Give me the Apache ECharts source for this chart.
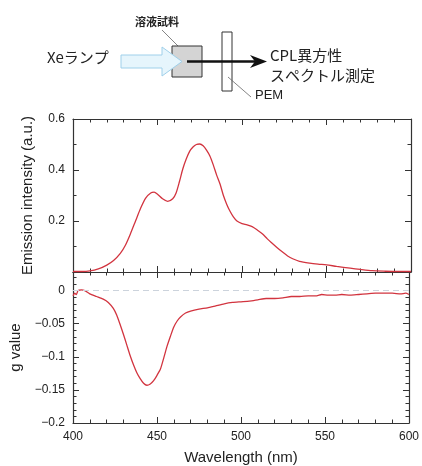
<!DOCTYPE html>
<html>
<head>
<meta charset="utf-8">
<script src="https://cdn.jsdelivr.net/npm/echarts@6/dist/echarts.min.js"></script>
<style>
  html, body { margin: 0; padding: 0; background: #fff; }
  #chart { width: 422px; height: 466px; }
</style>
</head>
<body>
<div id="chart"></div>
<script>
// emission spectrum
var emWave = [400, 405, 410, 415, 420, 424, 428, 431, 434, 437, 440, 443, 446, 448, 450, 453, 456, 459, 461, 463,
    465, 467, 469, 471, 473, 475, 477, 479, 481, 483, 485, 487, 489, 491, 493, 495, 497, 500, 503, 506,
    509, 512, 515, 518, 521, 524, 527, 530, 534, 540, 545, 550, 556, 564, 570, 577, 585, 592, 600];
var emValue = [0.002, 0.002, 0.004, 0.012, 0.027, 0.045, 0.073, 0.105, 0.15, 0.2, 0.25, 0.29, 0.31, 0.313, 0.305, 0.287, 0.277, 0.287, 0.31, 0.355,
    0.405, 0.443, 0.473, 0.49, 0.5, 0.502, 0.495, 0.478, 0.455, 0.42, 0.38, 0.345, 0.3, 0.265, 0.237, 0.215, 0.2, 0.19, 0.185, 0.178,
    0.165, 0.15, 0.13, 0.112, 0.094, 0.078, 0.063, 0.052, 0.042, 0.035, 0.031, 0.028, 0.022, 0.015, 0.01, 0.005, 0.003, 0.002, 0.002];

// g value (dissymmetry factor)
var gWave = [400, 401, 402, 403, 405, 407, 410, 414, 418, 421, 424, 426, 428, 430, 432, 434, 436, 438, 440, 442,
    444, 446, 448, 450, 452, 454, 456, 458, 460, 462, 464, 467, 470, 475, 480, 485, 490, 495, 500, 505,
    510, 515, 520, 525, 530, 535, 540, 545, 548, 552, 556, 560, 565, 570, 575, 580, 585, 590, 595, 598, 600];
var gValue = [-0.008, -0.004, -0.006, 0.0, 0.001, 0.0, -0.005, -0.009, -0.013, -0.018, -0.027, -0.037, -0.051, -0.066, -0.082, -0.098, -0.112, -0.124, -0.133, -0.14,
    -0.143, -0.141, -0.136, -0.128, -0.119, -0.102, -0.084, -0.069, -0.055, -0.046, -0.04, -0.034, -0.031, -0.028, -0.026, -0.023, -0.02, -0.018, -0.017, -0.016,
    -0.014, -0.012, -0.012, -0.011, -0.009, -0.009, -0.008, -0.008, -0.006, -0.007, -0.007, -0.006, -0.007, -0.006, -0.005, -0.004, -0.004, -0.004, -0.005, -0.004, -0.006];

var emTicks = [0, 0.2, 0.4, 0.6];
var gTicks = [-0.2, -0.15, -0.1, -0.05, 0];

var font = '"Liberation Sans", Arial, sans-serif';
var jpFont = '"Noto Sans CJK JP", sans-serif';
var lineColor = '#d2343f';
var axisColor = '#333';

function pairs(xs, ys) {
    return xs.map(function (x, i) { return [x, ys[i]]; });
}

function xAx(grid, pos, showLabel) {
    return {
        type: 'value', gridIndex: grid, position: pos, min: 400, max: 600, interval: 50,
        axisLine: { show: true, onZero: false, lineStyle: { color: axisColor, width: 1.2 } },
        axisTick: { show: true, inside: true, length: 6, lineStyle: { color: axisColor } },
        minorTick: { show: true, splitNumber: 5, length: 3.5, lineStyle: { color: axisColor } },
        axisLabel: { show: showLabel, color: '#222', fontSize: 12, fontFamily: font, margin: 8 },
        splitLine: { show: false }
    };
}

function yAx(grid, pos, min, max, interval, minorSplit, fmt) {
    return {
        type: 'value', gridIndex: grid, position: pos, min: min, max: max, interval: interval,
        axisLine: { show: true, onZero: false, lineStyle: { color: axisColor, width: 1.2 } },
        axisTick: { show: true, inside: true, length: 6, lineStyle: { color: axisColor } },
        minorTick: { show: true, splitNumber: minorSplit, length: 3.5, lineStyle: { color: axisColor } },
        axisLabel: { show: !!fmt, color: '#222', fontSize: 12, fontFamily: font, margin: 8, formatter: fmt },
        splitLine: { show: false }
    };
}

var myChart = echarts.init(document.getElementById('chart'));

var xBottom = xAx(1, 'bottom', true);
xBottom.name = 'Wavelength (nm)';
xBottom.nameLocation = 'middle';
xBottom.nameGap = 27;
xBottom.nameTextStyle = { color: '#222', fontSize: 15, fontFamily: font };

var yEm = yAx(0, 'left', 0, 0.6, 0.2, 2, function (v) {
    return (v > 0.001 && emTicks.some(function (t) { return Math.abs(t - v) < 1e-6; })) ? String(+v.toFixed(1)) : '';
});
yEm.name = 'Emission intensity (a.u.)';
yEm.nameLocation = 'middle';
yEm.nameGap = 38;
yEm.nameTextStyle = { color: '#222', fontSize: 15, fontFamily: font };

var yG = yAx(1, 'left', -0.2, 0.028, 0.05, 5, function (v) {
    if (!gTicks.some(function (t) { return Math.abs(t - v) < 1e-6; })) return '';
    if (Math.abs(v) < 1e-6) return '0';
    return '\u2212' + String(+Math.abs(v).toFixed(2));
});
yG.name = 'g value';
yG.nameLocation = 'middle';
yG.nameGap = 45;
yG.nameTextStyle = { color: '#222', fontSize: 15, fontFamily: font };

var option = {
    backgroundColor: '#fff',
    animation: false,
    grid: [
        { left: 73, top: 119, width: 338, height: 153 },
        { left: 73, top: 272, width: 338, height: 155 }
    ],
    xAxis: [xAx(0, 'bottom', false), xAx(0, 'top', false), xBottom, xAx(1, 'top', false)],
    yAxis: [yEm, yAx(0, 'right', 0, 0.6, 0.2, 2, null), yG, yAx(1, 'right', -0.2, 0.028, 0.05, 5, null)],
    series: [
        {
            type: 'line', xAxisIndex: 0, yAxisIndex: 0, data: pairs(emWave, emValue),
            showSymbol: false, smooth: 0.25, lineStyle: { color: lineColor, width: 1.3 }
        },
        {
            type: 'line', xAxisIndex: 2, yAxisIndex: 2, data: pairs(gWave, gValue),
            showSymbol: false, smooth: 0.2, lineStyle: { color: lineColor, width: 1.3 },
            markLine: {
                silent: true, symbol: 'none', label: { show: false },
                lineStyle: { color: '#ccd3dc', type: [6, 4], width: 1 },
                data: [{ yAxis: 0 }]
            }
        }
    ],
    graphic: [
        // sample label and leader
        { type: 'text', left: 135, top: 16, style: { text: '溶液試料', font: 'bold 11px ' + jpFont, fill: '#222' } },
        { type: 'line', shape: { x1: 162, y1: 30, x2: 181, y2: 49 }, style: { stroke: '#666', lineWidth: 0.8 } },
        // sample cell
        { type: 'rect', shape: { x: 172, y: 46, width: 30, height: 31 }, style: { fill: '#d4d4d4', stroke: '#333', lineWidth: 1 } },
        // lamp light arrow
        { type: 'polygon', shape: { points: [[121, 55], [162, 55], [162, 47], [182, 61.5], [162, 76], [162, 68], [121, 68]] },
          style: { fill: '#e6f5fc', stroke: '#9fd0ea', lineWidth: 1 } },
        { type: 'text', left: 47, top: 50, style: { text: 'Xeランプ', font: '15px ' + jpFont, fill: '#222' } },
        // PEM
        { type: 'rect', shape: { x: 222, y: 32, width: 10, height: 59 }, style: { fill: '#fff', stroke: '#333', lineWidth: 1 } },
        { type: 'line', shape: { x1: 228, y1: 77, x2: 251, y2: 97 }, style: { stroke: '#666', lineWidth: 0.8 } },
        { type: 'text', left: 255, top: 89, style: { text: 'PEM', font: '13px ' + font, fill: '#222' } },
        // emission arrow
        { type: 'line', shape: { x1: 187, y1: 61.5, x2: 256, y2: 61.5 }, style: { stroke: '#111', lineWidth: 2.5 } },
        { type: 'polygon', shape: { points: [[250, 55], [267, 61.5], [250, 68], [255, 61.5]] }, style: { fill: '#111' } },
        { type: 'text', left: 270, top: 48, style: { text: 'CPL異方性', font: '15px ' + jpFont, fill: '#222' } },
        { type: 'text', left: 270, top: 68, style: { text: 'スペクトル測定', font: '15px ' + jpFont, fill: '#222' } }
    ]
};

myChart.setOption(option);
</script>
</body>
</html>
